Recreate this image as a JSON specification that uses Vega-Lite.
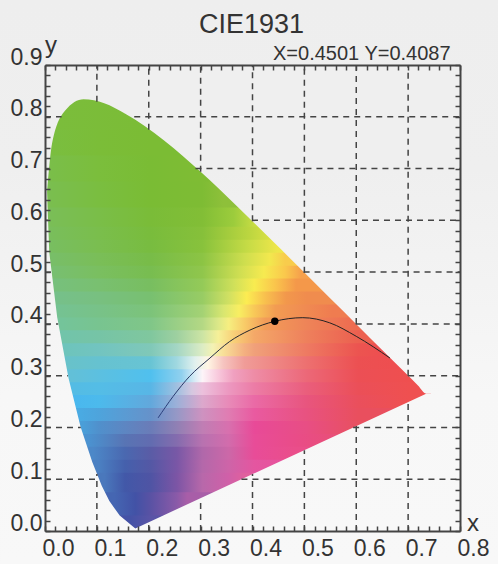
{"$schema":"https://vega.github.io/schema/vega-lite/v6.json","width":415,"height":466,"autosize":"none","padding":{"left":45,"top":65,"right":38,"bottom":33},"background":"#f3f3f3","resolve":{"axis":{"x":"independent","y":"independent"}},"encoding":{"x":{"field":"x","type":"quantitative","scale":{"domain":[0,0.8],"nice":false},"axis":null},"y":{"field":"y","type":"quantitative","scale":{"domain":[0,0.9],"nice":false},"axis":null}},"layer":[
{"data":{"values":[{"x":-0.0867,"x2":0.8733,"y":1.0255,"y2":-0.0637}]},"mark":{"type":"rect","fill":{"gradient":"linear","x1":0,"y1":0,"x2":0,"y2":1,"stops":[{"offset":0,"color":"#eeeeee"},{"offset":0.3,"color":"#efefef"},{"offset":0.7,"color":"#f7f7f7"},{"offset":1,"color":"#f8f8f8"}]}},"encoding":{"x2":{"field":"x2"},"y2":{"field":"y2"}}},
{"encoding":{"x2":{"field":"x2"},"y2":{"field":"y2"}},"layer":[
{"data":{"values":[{"x":0.004,"x2":0.744,"y":0,"y2":0.032}]},"mark":{"type":"rect","fill":{"gradient":"linear","stops":[{"offset":0.216,"color":"#4452a6"},{"offset":0.27,"color":"#5a54a6"}]}}},
{"data":{"values":[{"x":0.004,"x2":0.744,"y":0.03,"y2":0.077}]},"mark":{"type":"rect","fill":{"gradient":"linear","stops":[{"offset":0.176,"color":"#4566b2"},{"offset":0.23,"color":"#4252a6"},{"offset":0.27,"color":"#5a52a4"},{"offset":0.338,"color":"#8a5aa8"},{"offset":0.365,"color":"#a85ea8"}]}}},
{"data":{"values":[{"x":0.004,"x2":0.744,"y":0.075,"y2":0.114}]},"mark":{"type":"rect","fill":{"gradient":"linear","stops":[{"offset":0.15,"color":"#4a78bc"},{"offset":0.203,"color":"#4258a8"},{"offset":0.27,"color":"#4f54a4"},{"offset":0.338,"color":"#7c55a5"},{"offset":0.405,"color":"#b868aa"},{"offset":0.473,"color":"#d060a8"},{"offset":0.514,"color":"#e0609e"}]}}},
{"data":{"values":[{"x":0.004,"x2":0.744,"y":0.1125,"y2":0.1395}]},"mark":{"type":"rect","fill":{"gradient":"linear","stops":[{"offset":0.135,"color":"#4b80c2"},{"offset":0.203,"color":"#4560ac"},{"offset":0.27,"color":"#5458a5"},{"offset":0.338,"color":"#7a56a6"},{"offset":0.405,"color":"#b468aa"},{"offset":0.473,"color":"#ce64a8"},{"offset":0.54,"color":"#e456a0"},{"offset":0.649,"color":"#e8509a"}]}}},
{"data":{"values":[{"x":0.004,"x2":0.744,"y":0.1375,"y2":0.1645}]},"mark":{"type":"rect","fill":{"gradient":"linear","stops":[{"offset":0.12,"color":"#4c88c8"},{"offset":0.203,"color":"#4a68b0"},{"offset":0.27,"color":"#5a5ca6"},{"offset":0.338,"color":"#7858a6"},{"offset":0.405,"color":"#b068aa"},{"offset":0.473,"color":"#cc68a8"},{"offset":0.54,"color":"#e84c98"},{"offset":0.649,"color":"#ea4e8a"}]}}},
{"data":{"values":[{"x":0.004,"x2":0.744,"y":0.1625,"y2":0.1895}]},"mark":{"type":"rect","fill":{"gradient":"linear","stops":[{"offset":0.108,"color":"#4b92d0"},{"offset":0.135,"color":"#4e8ac8"},{"offset":0.203,"color":"#5874b4"},{"offset":0.27,"color":"#626cb0"},{"offset":0.338,"color":"#846cae"},{"offset":0.405,"color":"#b872b0"},{"offset":0.473,"color":"#d26cac"},{"offset":0.54,"color":"#e84c98"},{"offset":0.649,"color":"#e94c88"},{"offset":0.8,"color":"#e85070"}]}}},
{"data":{"values":[{"x":0.004,"x2":0.744,"y":0.1875,"y2":0.2145}]},"mark":{"type":"rect","fill":{"gradient":"linear","stops":[{"offset":0.095,"color":"#4a9ed8"},{"offset":0.135,"color":"#5090cc"},{"offset":0.27,"color":"#6a7cb8"},{"offset":0.338,"color":"#9080b4"},{"offset":0.405,"color":"#c07eb4"},{"offset":0.473,"color":"#d870ae"},{"offset":0.54,"color":"#e84a98"},{"offset":0.676,"color":"#e84e84"},{"offset":0.81,"color":"#e85060"}]}}},
{"data":{"values":[{"x":0.004,"x2":0.744,"y":0.2125,"y2":0.2395}]},"mark":{"type":"rect","fill":{"gradient":"linear","stops":[{"offset":0.088,"color":"#4aaae2"},{"offset":0.135,"color":"#4ea4dc"},{"offset":0.27,"color":"#6692ca"},{"offset":0.338,"color":"#9698c6"},{"offset":0.405,"color":"#ce92c0"},{"offset":0.473,"color":"#e07cb2"},{"offset":0.54,"color":"#e95aa0"},{"offset":0.676,"color":"#e85280"},{"offset":0.81,"color":"#e94f5e"}]}}},
{"data":{"values":[{"x":0.004,"x2":0.744,"y":0.2375,"y2":0.2645}]},"mark":{"type":"rect","fill":{"gradient":"linear","stops":[{"offset":0.08,"color":"#4ab8ee"},{"offset":0.135,"color":"#4cbaec"},{"offset":0.27,"color":"#62a8dc"},{"offset":0.338,"color":"#9cb0d8"},{"offset":0.405,"color":"#dca8cc"},{"offset":0.473,"color":"#e88ab8"},{"offset":0.54,"color":"#ea6aa6"},{"offset":0.676,"color":"#e8557e"},{"offset":0.81,"color":"#ea4f5c"},{"offset":0.946,"color":"#ef5050"}]}}},
{"data":{"values":[{"x":0.004,"x2":0.744,"y":0.2625,"y2":0.2895}]},"mark":{"type":"rect","fill":{"gradient":"linear","stops":[{"offset":0.074,"color":"#54bce4"},{"offset":0.135,"color":"#54bde6"},{"offset":0.27,"color":"#58b6e6"},{"offset":0.338,"color":"#a0c0e0"},{"offset":0.378,"color":"#d6c8e0"},{"offset":0.405,"color":"#ecc0dc"},{"offset":0.473,"color":"#ec98c0"},{"offset":0.54,"color":"#ec7ca6"},{"offset":0.676,"color":"#ea5e7c"},{"offset":0.81,"color":"#eb4f58"},{"offset":0.946,"color":"#ef5050"}]}}},
{"data":{"values":[{"x":0.004,"x2":0.744,"y":0.2875,"y2":0.3145}]},"mark":{"type":"rect","fill":{"gradient":"linear","stops":[{"offset":0.068,"color":"#62c0d8"},{"offset":0.135,"color":"#5cc0e0"},{"offset":0.27,"color":"#50c0ee"},{"offset":0.35,"color":"#90d0ee"},{"offset":0.385,"color":"#d8ecf6"},{"offset":0.405,"color":"#fdf4f8"},{"offset":0.446,"color":"#f8c8dc"},{"offset":0.486,"color":"#f0a0c0"},{"offset":0.54,"color":"#ee8ca6"},{"offset":0.676,"color":"#ec6878"},{"offset":0.81,"color":"#ec4f55"},{"offset":0.946,"color":"#ef4f4f"}]}}},
{"data":{"values":[{"x":0.004,"x2":0.744,"y":0.3125,"y2":0.3395}]},"mark":{"type":"rect","fill":{"gradient":"linear","stops":[{"offset":0.06,"color":"#68c2ca"},{"offset":0.135,"color":"#66c2d0"},{"offset":0.27,"color":"#68c4d4"},{"offset":0.338,"color":"#a0d8e0"},{"offset":0.385,"color":"#e0f0ee"},{"offset":0.419,"color":"#fff6e4"},{"offset":0.459,"color":"#f6c4c0"},{"offset":0.514,"color":"#f09c98"},{"offset":0.676,"color":"#ed7070"},{"offset":0.81,"color":"#ec5052"},{"offset":0.9,"color":"#ee4e50"}]}}},
{"data":{"values":[{"x":0.004,"x2":0.744,"y":0.3375,"y2":0.3645}]},"mark":{"type":"rect","fill":{"gradient":"linear","stops":[{"offset":0.054,"color":"#6ec4bc"},{"offset":0.135,"color":"#72c4c0"},{"offset":0.27,"color":"#80c8b8"},{"offset":0.338,"color":"#a4d6c4"},{"offset":0.405,"color":"#dcecc4"},{"offset":0.432,"color":"#f4f2b4"},{"offset":0.459,"color":"#f8e098"},{"offset":0.514,"color":"#f4b080"},{"offset":0.54,"color":"#f0a07a"},{"offset":0.676,"color":"#ee7a62"},{"offset":0.81,"color":"#ec5450"},{"offset":0.878,"color":"#ee4e50"}]}}},
{"data":{"values":[{"x":0.004,"x2":0.744,"y":0.3625,"y2":0.3895}]},"mark":{"type":"rect","fill":{"gradient":"linear","stops":[{"offset":0.047,"color":"#72c4aa"},{"offset":0.135,"color":"#76c4a6"},{"offset":0.27,"color":"#80c79e"},{"offset":0.338,"color":"#9ed0a0"},{"offset":0.405,"color":"#cce4a4"},{"offset":0.446,"color":"#f6f098"},{"offset":0.486,"color":"#f8d078"},{"offset":0.54,"color":"#f4a868"},{"offset":0.676,"color":"#ee805c"},{"offset":0.81,"color":"#ec6050"}]}}},
{"data":{"values":[{"x":0.004,"x2":0.744,"y":0.3875,"y2":0.4145}]},"mark":{"type":"rect","fill":{"gradient":"linear","stops":[{"offset":0.04,"color":"#74c49a"},{"offset":0.135,"color":"#78c490"},{"offset":0.27,"color":"#80c688"},{"offset":0.405,"color":"#b4d884"},{"offset":0.446,"color":"#dce888"},{"offset":0.473,"color":"#f6ee80"},{"offset":0.514,"color":"#f8cc68"},{"offset":0.568,"color":"#f29c58"},{"offset":0.676,"color":"#ee8458"},{"offset":0.81,"color":"#ee6a50"}]}}},
{"data":{"values":[{"x":0.004,"x2":0.744,"y":0.4125,"y2":0.4395}]},"mark":{"type":"rect","fill":{"gradient":"linear","stops":[{"offset":0.034,"color":"#75c292"},{"offset":0.135,"color":"#78c288"},{"offset":0.27,"color":"#7cc37a"},{"offset":0.405,"color":"#a4d274"},{"offset":0.459,"color":"#d8e670"},{"offset":0.5,"color":"#f8ee62"},{"offset":0.54,"color":"#f8c858"},{"offset":0.595,"color":"#f29c52"},{"offset":0.676,"color":"#f08a52"},{"offset":0.743,"color":"#ef7c50"}]}}},
{"data":{"values":[{"x":0.004,"x2":0.744,"y":0.4375,"y2":0.4645}]},"mark":{"type":"rect","fill":{"gradient":"linear","stops":[{"offset":0.027,"color":"#76c08a"},{"offset":0.135,"color":"#78c080"},{"offset":0.27,"color":"#78c070"},{"offset":0.405,"color":"#98cc64"},{"offset":0.473,"color":"#d0e062"},{"offset":0.52,"color":"#fcec52"},{"offset":0.568,"color":"#f8c04e"},{"offset":0.622,"color":"#f2984c"},{"offset":0.676,"color":"#f08c4e"}]}}},
{"data":{"values":[{"x":0.004,"x2":0.744,"y":0.4625,"y2":0.4895}]},"mark":{"type":"rect","fill":{"gradient":"linear","stops":[{"offset":0.023,"color":"#77c07c"},{"offset":0.135,"color":"#79c070"},{"offset":0.27,"color":"#78be60"},{"offset":0.405,"color":"#94ca58"},{"offset":0.486,"color":"#cfe05a"},{"offset":0.54,"color":"#f8ec50"},{"offset":0.595,"color":"#fac44c"},{"offset":0.649,"color":"#f4984a"}]}}},
{"data":{"values":[{"x":0.004,"x2":0.744,"y":0.4875,"y2":0.5145}]},"mark":{"type":"rect","fill":{"gradient":"linear","stops":[{"offset":0.02,"color":"#78bf70"},{"offset":0.135,"color":"#7abf60"},{"offset":0.27,"color":"#78bd50"},{"offset":0.405,"color":"#90c64c"},{"offset":0.5,"color":"#cede52"},{"offset":0.565,"color":"#f6ea50"},{"offset":0.62,"color":"#fac84c"},{"offset":0.662,"color":"#f6a04c"}]}}},
{"data":{"values":[{"x":0.004,"x2":0.744,"y":0.5125,"y2":0.5395}]},"mark":{"type":"rect","fill":{"gradient":"linear","stops":[{"offset":0.015,"color":"#78be68"},{"offset":0.135,"color":"#7abe58"},{"offset":0.27,"color":"#78bc48"},{"offset":0.405,"color":"#8cc444"},{"offset":0.514,"color":"#cede4e"},{"offset":0.58,"color":"#f2e84e"},{"offset":0.62,"color":"#f8cc4c"}]}}},
{"data":{"values":[{"x":0.004,"x2":0.744,"y":0.5375,"y2":0.5645}]},"mark":{"type":"rect","fill":{"gradient":"linear","stops":[{"offset":0.01,"color":"#78be60"},{"offset":0.135,"color":"#7abe50"},{"offset":0.27,"color":"#78bc40"},{"offset":0.405,"color":"#88c23c"},{"offset":0.527,"color":"#c8dc46"},{"offset":0.6,"color":"#eee64a"}]}}},
{"data":{"values":[{"x":0.004,"x2":0.744,"y":0.5625,"y2":0.5895}]},"mark":{"type":"rect","fill":{"gradient":"linear","stops":[{"offset":0.005,"color":"#79be5c"},{"offset":0.135,"color":"#7abe4c"},{"offset":0.27,"color":"#79bc3c"},{"offset":0.405,"color":"#86c03a"},{"offset":0.527,"color":"#bcd640"},{"offset":0.58,"color":"#d8e044"}]}}},
{"data":{"values":[{"x":0.004,"x2":0.744,"y":0.5875,"y2":0.627}]},"mark":{"type":"rect","fill":{"gradient":"linear","stops":[{"offset":0,"color":"#7abe58"},{"offset":0.135,"color":"#7abe48"},{"offset":0.27,"color":"#7abc38"},{"offset":0.405,"color":"#82be36"},{"offset":0.486,"color":"#9ccc3c"},{"offset":0.54,"color":"#c8dc44"}]}}},
{"data":{"values":[{"x":0.004,"x2":0.744,"y":0.625,"y2":0.677}]},"mark":{"type":"rect","fill":{"gradient":"linear","stops":[{"offset":0,"color":"#7abe50"},{"offset":0.135,"color":"#7abe40"},{"offset":0.27,"color":"#7abc34"},{"offset":0.405,"color":"#7ebc34"},{"offset":0.459,"color":"#8ec03a"}]}}},
{"data":{"values":[{"x":0.004,"x2":0.744,"y":0.675,"y2":0.727}]},"mark":{"type":"rect","fill":{"gradient":"linear","stops":[{"offset":0,"color":"#7abe4a"},{"offset":0.135,"color":"#7bbe3c"},{"offset":0.27,"color":"#7abc34"},{"offset":0.405,"color":"#7fbc34"}]}}},
{"data":{"values":[{"x":0.004,"x2":0.744,"y":0.725,"y2":0.777}]},"mark":{"type":"rect","fill":{"gradient":"linear","stops":[{"offset":0,"color":"#7abe40"},{"offset":0.135,"color":"#7bbd38"},{"offset":0.27,"color":"#7bbc34"}]}}},
{"data":{"values":[{"x":0.004,"x2":0.744,"y":0.775,"y2":0.84}]},"mark":{"type":"rect","fill":{"gradient":"linear","stops":[{"offset":0,"color":"#7bbd3c"},{"offset":0.27,"color":"#7bbc36"}]}}}
]},
{"data":{"values":[{"x":0.0039,"y":0.6548,"y2":0.9},{"x":0.0139,"y":0.7502,"y2":0.9},{"x":0.0389,"y":0.812,"y2":0.9},{"x":0.0743,"y":0.8338,"y2":0.9},{"x":0.1142,"y":0.8262,"y2":0.9},{"x":0.1547,"y":0.8059,"y2":0.9},{"x":0.2296,"y":0.7543,"y2":0.9},{"x":0.3016,"y":0.6923,"y2":0.9},{"x":0.3731,"y":0.6245,"y2":0.9},{"x":0.4441,"y":0.5547,"y2":0.9},{"x":0.5125,"y":0.4866,"y2":0.9},{"x":0.5752,"y":0.4242,"y2":0.9},{"x":0.627,"y":0.3725,"y2":0.9},{"x":0.6915,"y":0.3083,"y2":0.9},{"x":0.719,"y":0.2809,"y2":0.9},{"x":0.7347,"y":0.2653,"y2":0.9},{"x":0.8,"y":0.2653,"y2":0.9}]},"mark":{"type":"area","orient":"vertical","interpolate":"monotone","fill":{"gradient":"linear","x1":0,"y1":0,"x2":0,"y2":1,"stops":[{"offset":0,"color":"#efefef"},{"offset":0.32,"color":"#efefef"},{"offset":1,"color":"#f7f7f7"}]}},"encoding":{"y2":{"field":"y2"}}},
{"data":{"values":[{"x":0.0039,"y":0.6548,"y2":0},{"x":0.0082,"y":0.5384,"y2":0},{"x":0.0235,"y":0.4127,"y2":0},{"x":0.0454,"y":0.295,"y2":0},{"x":0.0687,"y":0.2007,"y2":0},{"x":0.0913,"y":0.1327,"y2":0},{"x":0.1096,"y":0.0868,"y2":0},{"x":0.1241,"y":0.0578,"y2":0},{"x":0.144,"y":0.0297,"y2":0},{"x":0.1741,"y":0.005,"y2":0},{"x":0.7347,"y":0.2653,"y2":0},{"x":0.8,"y":0.2653,"y2":0}]},"mark":{"type":"area","orient":"vertical","fill":{"gradient":"linear","x1":0,"y1":0,"x2":0,"y2":1,"stops":[{"offset":0,"color":"#f0f0f0"},{"offset":0.6,"color":"#f7f7f7"},{"offset":1,"color":"#f8f8f8"}]}},"encoding":{"y2":{"field":"y2"}}},
{"data":{"values":[{"x":0.1,"y":0.829,"y2":0.9},{"x":0.1,"y":0,"y2":0.11},{"x":0.2,"y":0.775,"y2":0.9},{"x":0.2,"y":0,"y2":0.017},{"x":0.3,"y":0.694,"y2":0.9},{"x":0.3,"y":0,"y2":0.0635},{"x":0.4,"y":0.598,"y2":0.9},{"x":0.4,"y":0,"y2":0.1099},{"x":0.5,"y":0.499,"y2":0.9},{"x":0.5,"y":0,"y2":0.156},{"x":0.6,"y":0.4,"y2":0.9},{"x":0.6,"y":0,"y2":0.2027},{"x":0.7,"y":0.3,"y2":0.9},{"x":0.7,"y":0,"y2":0.249}]},"mark":{"type":"rule","color":"#444","strokeWidth":1.5,"strokeDash":[6,5]},"encoding":{"x":{"field":"x","type":"quantitative","axis":{"orient":"bottom","title":null,"grid":false,"zindex":1,"values":[0,0.02,0.04,0.06,0.08,0.1,0.12,0.14,0.16,0.18,0.2,0.22,0.24,0.26,0.28,0.3,0.32,0.34,0.36,0.38,0.4,0.42,0.44,0.46,0.48,0.5,0.52,0.54,0.56,0.58,0.6,0.62,0.64,0.66,0.68,0.7,0.72,0.74,0.76,0.78,0.8],"labelExpr":"abs(round(datum.value*10)-datum.value*10)<0.001?format(datum.value,'.1f'):''","labelFont":"Liberation Sans","labelFontSize":23,"labelColor":"#333","labelOffset":13,"labelPadding":11,"labelOverlap":false,"labelFlush":false,"labelBound":false,"tickSize":-5,"tickColor":"#444","tickWidth":1.5,"domainColor":"#444","domainWidth":2}},"y":{"field":"y","type":"quantitative","axis":{"orient":"left","title":null,"grid":false,"zindex":1,"values":[0,0.02,0.04,0.06,0.08,0.1,0.12,0.14,0.16,0.18,0.2,0.22,0.24,0.26,0.28,0.3,0.32,0.34,0.36,0.38,0.4,0.42,0.44,0.46,0.48,0.5,0.52,0.54,0.56,0.58,0.6,0.62,0.64,0.66,0.68,0.7,0.72,0.74,0.76,0.78,0.8,0.82,0.84,0.86,0.88,0.9],"labelExpr":"abs(round(datum.value*10)-datum.value*10)<0.001?format(datum.value,'.1f'):''","labelFont":"Liberation Sans","labelFontSize":23,"labelColor":"#333","labelOffset":-8,"labelPadding":8,"labelOverlap":false,"labelFlush":false,"labelBound":false,"tickSize":-5,"tickColor":"#444","tickWidth":1.5,"domainColor":"#444","domainWidth":2}},"y2":{"field":"y2"}}},
{"data":{"values":[{"y":0.1,"x":0,"x2":0.104},{"y":0.1,"x":0.3787,"x2":0.8},{"y":0.2,"x":0,"x2":0.069},{"y":0.2,"x":0.594,"x2":0.8},{"y":0.3,"x":0,"x2":0.044},{"y":0.3,"x":0.7,"x2":0.8},{"y":0.4,"x":0,"x2":0.0255},{"y":0.4,"x":0.599,"x2":0.8},{"y":0.5,"x":0,"x2":0.015},{"y":0.5,"x":0.4985,"x2":0.8},{"y":0.6,"x":0,"x2":0.006},{"y":0.6,"x":0.399,"x2":0.8},{"y":0.7,"x":0,"x2":0.009},{"y":0.7,"x":0.29,"x2":0.8},{"y":0.8,"x":0,"x2":0.032},{"y":0.8,"x":0.172,"x2":0.8}]},"mark":{"type":"rule","color":"#444","strokeWidth":1.5,"strokeDash":[6,5]},"encoding":{"x":{"field":"x","type":"quantitative","axis":{"orient":"top","title":null,"grid":false,"zindex":1,"labels":false,"values":[0,0.02,0.04,0.06,0.08,0.1,0.12,0.14,0.16,0.18,0.2,0.22,0.24,0.26,0.28,0.3,0.32,0.34,0.36,0.38,0.4,0.42,0.44,0.46,0.48,0.5,0.52,0.54,0.56,0.58,0.6,0.62,0.64,0.66,0.68,0.7,0.72,0.74,0.76,0.78,0.8],"tickSize":-5,"tickColor":"#444","tickWidth":1.5,"domainColor":"#444","domainWidth":2}},"y":{"field":"y","type":"quantitative","axis":{"orient":"right","title":null,"grid":false,"zindex":1,"labels":false,"values":[0,0.02,0.04,0.06,0.08,0.1,0.12,0.14,0.16,0.18,0.2,0.22,0.24,0.26,0.28,0.3,0.32,0.34,0.36,0.38,0.4,0.42,0.44,0.46,0.48,0.5,0.52,0.54,0.56,0.58,0.6,0.62,0.64,0.66,0.68,0.7,0.72,0.74,0.76,0.78,0.8,0.82,0.84,0.86,0.88,0.9],"tickSize":-5,"tickColor":"#444","tickWidth":1.5,"domainColor":"#444","domainWidth":2}},"x2":{"field":"x2"}}},
{"data":{"values":[{"x":0.218,"y":0.2185},{"x":0.247,"y":0.26},{"x":0.279,"y":0.299},{"x":0.318,"y":0.334},{"x":0.356,"y":0.366},{"x":0.395,"y":0.388},{"x":0.443,"y":0.405},{"x":0.497,"y":0.412},{"x":0.549,"y":0.402},{"x":0.6,"y":0.376},{"x":0.665,"y":0.334}]},"mark":{"type":"line","interpolate":"monotone","strokeWidth":1,"stroke":{"gradient":"linear","stops":[{"offset":0,"color":"#2a4080"},{"offset":0.4,"color":"#222222"},{"offset":1,"color":"#222222"}]}}},
{"data":{"values":[{"x":0.443,"y":0.405}]},"mark":{"type":"circle","size":55,"color":"#000","opacity":1}},
{"data":{"values":[{"x":0.398,"y":0.962,"t":"CIE1931"}]},"mark":{"type":"text","align":"center","baseline":"alphabetic","font":"Liberation Sans","fontSize":27,"color":"#333"},"encoding":{"text":{"field":"t"}}},
{"data":{"values":[{"x":0.4395,"y":0.9096,"t":"X=0.4501 Y=0.4087"}]},"mark":{"type":"text","align":"left","baseline":"alphabetic","font":"Liberation Sans","fontSize":20,"color":"#333"},"encoding":{"text":{"field":"t"}}},
{"data":{"values":[{"x":0,"y":0.923,"t":"y"},{"x":0.8135,"y":0,"t":"x"}]},"mark":{"type":"text","align":"left","baseline":"alphabetic","font":"Liberation Sans","fontSize":24,"color":"#333"},"encoding":{"text":{"field":"t"}}}
]}
